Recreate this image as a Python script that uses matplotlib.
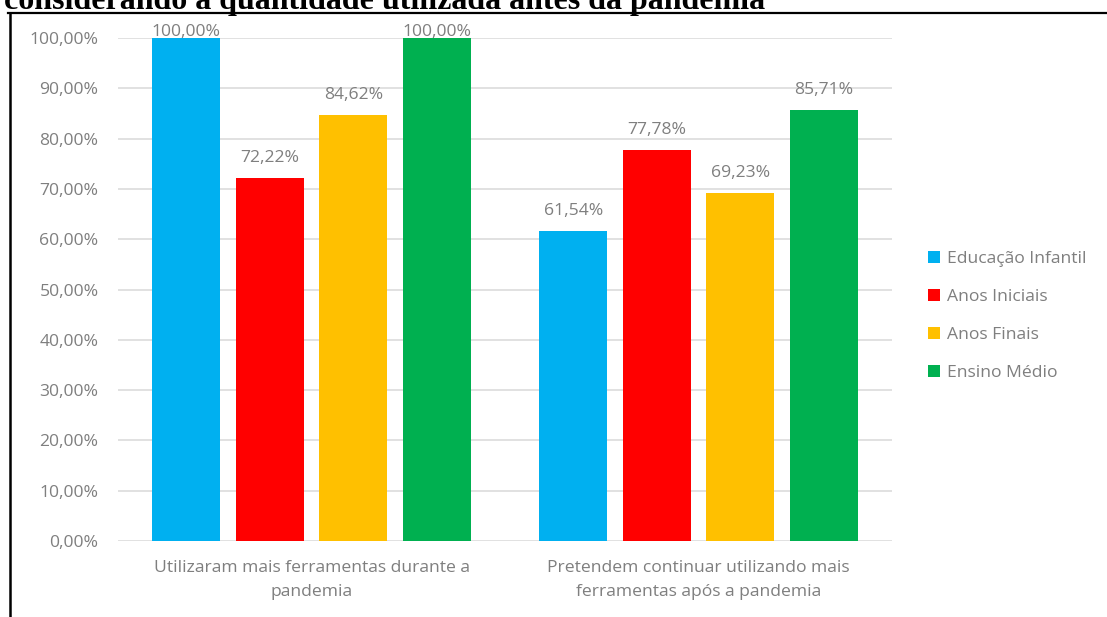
import matplotlib
matplotlib.use("Agg")
import matplotlib.pyplot as plt
from matplotlib.lines import Line2D
from matplotlib.patches import Patch
from matplotlib.ticker import FuncFormatter
import numpy as np

# ---------------------------------------------------------------------------
# Data
# ---------------------------------------------------------------------------
categories = [
    "Utilizaram mais ferramentas durante a\npandemia",
    "Pretendem continuar utilizando mais\nferramentas após a pandemia",
]
series_names = ["Educação Infantil", "Anos Iniciais", "Anos Finais", "Ensino Médio"]
educacao_infantil = [1.0000, 0.6154]
anos_iniciais = [0.7222, 0.7778]
anos_finais = [0.8462, 0.6923]
ensino_medio = [1.0000, 0.8571]
yticks = np.arange(0, 1.01, 0.1)

colors = ["#00B0F0", "#FF0000", "#FFC000", "#00B050"]
TEXT_GRAY = "#7f7f7f"
FONT = "Open Sans"
FS = 12.6


def pct(v, _=None):
    return f"{v * 100:.2f}%".replace(".", ",")


fig = plt.figure(figsize=(11.07, 6.17), dpi=100)
ax = fig.add_axes([118 / 1107, 1 - 541 / 617, 774 / 1107, 503 / 617])

values = [educacao_infantil, anos_iniciais, anos_finais, ensino_medio]
x = np.arange(len(categories))
width = 0.176
step = 0.2155
ymax = 1.0

for i, (vals, color) in enumerate(zip(values, colors)):
    pos = x + (i - 1.5) * step
    ax.bar(pos, vals, width=width, color=color, zorder=2)
    for xp, v in zip(pos, vals):
        # labels at the top of the scale get squeezed against the bar
        off = 1.5 if v >= ymax else 11.5
        ax.annotate(pct(v), xy=(xp, v), xytext=(0, off), textcoords="offset points",
                    ha="center", va="baseline", fontsize=FS, family=FONT,
                    color=TEXT_GRAY)

ax.set_xlim(-0.5, len(categories) - 0.5)
ax.set_ylim(0, ymax)
ax.set_yticks(yticks)
ax.yaxis.set_major_formatter(FuncFormatter(pct))
ax.set_xticks(x)
ax.set_xticklabels(categories, linespacing=1.6)
ax.tick_params(axis="y", length=0, pad=14, labelsize=FS, labelcolor=TEXT_GRAY)
ax.tick_params(axis="x", length=0, pad=14, labelsize=FS, labelcolor=TEXT_GRAY)
for lbl in ax.get_xticklabels() + ax.get_yticklabels():
    lbl.set_family(FONT)
ax.grid(axis="y", color="#d9d9d9", linewidth=1.1, zorder=0)
ax.set_axisbelow(True)
for s in ax.spines.values():
    s.set_visible(False)

handles = [Patch(facecolor=c, edgecolor="none") for c in colors]
fig.legend(handles, series_names, loc="center left",
           bbox_to_anchor=(928 / 1107, 1 - 316 / 617), frameon=False,
           prop={"family": FONT, "size": FS}, labelcolor=TEXT_GRAY,
           handlelength=0.7, handleheight=0.7, handletextpad=0.4,
           labelspacing=1.25, borderpad=0, borderaxespad=0)

# caption above the frame, partly cut off at the top edge
fig.text(4 / 1107, 1 - 9 / 617, "considerando a quantidade utilizada antes da pandemia",
         family="Liberation Serif", fontweight="bold", fontsize=23,
         ha="left", va="baseline", color="black")

# frame lines (top and left)
fig.add_artist(Line2D([8 / 1107, 1], [1 - 12.5 / 617] * 2, color="black",
                      linewidth=1.6, transform=fig.transFigure))
fig.add_artist(Line2D([9.5 / 1107] * 2, [0, 1 - 12.5 / 617], color="black",
                      linewidth=1.8, transform=fig.transFigure))

fig.savefig("out.png", dpi=100)
